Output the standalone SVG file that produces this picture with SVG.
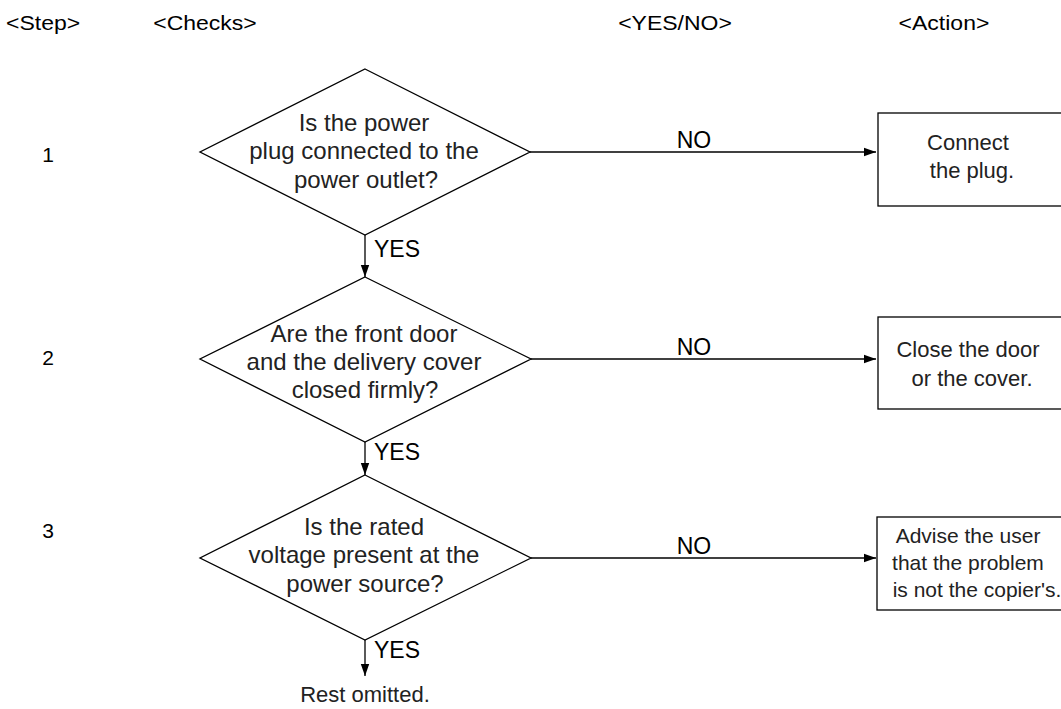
<svg xmlns="http://www.w3.org/2000/svg" width="1061" height="709" viewBox="0 0 1061 709">
<style>
text{font-family:"Liberation Sans",Arial,sans-serif;fill:#222}
.h{font-size:23px;fill:#000}
.s{font-size:21px;fill:#000}
.d{font-size:24px;text-anchor:middle}
.b{font-size:22px;text-anchor:middle}
.b3{font-size:21px;text-anchor:middle}
.l{font-size:23px;fill:#000}
.shape{fill:#fff;stroke:#000;stroke-width:1.3}
.c{stroke:#000;stroke-width:1.3;fill:none}
</style>
<defs>
<marker id="ah" viewBox="0 0 10 10" refX="10" refY="5" markerWidth="12" markerHeight="12" markerUnits="userSpaceOnUse" orient="auto">
<path d="M0,1.5 L10,5 L0,8.5 Z" fill="#000"/>
</marker>
</defs>
<g id="headers" transform="translate(0,4.5) scale(1,0.85)">
<text class="h" x="6" y="30">&lt;Step&gt;</text>
<text class="h" x="205" y="30" text-anchor="middle">&lt;Checks&gt;</text>
<text class="h" x="675" y="30" text-anchor="middle">&lt;YES/NO&gt;</text>
<text class="h" x="944" y="30" text-anchor="middle">&lt;Action&gt;</text>
</g>
<g id="steps">
<text class="s" x="48" y="162" text-anchor="middle">1</text>
<text class="s" x="48" y="365" text-anchor="middle">2</text>
<text class="s" x="48" y="538" text-anchor="middle">3</text>
</g>
<g id="connectors">
<line class="c" x1="530" y1="152" x2="876" y2="152" marker-end="url(#ah)"/>
<line class="c" x1="531" y1="359" x2="876" y2="359" marker-end="url(#ah)"/>
<line class="c" x1="531" y1="558" x2="876" y2="558" marker-end="url(#ah)"/>
<line class="c" x1="365" y1="235" x2="365" y2="277" marker-end="url(#ah)"/>
<line class="c" x1="365" y1="442" x2="365" y2="475" marker-end="url(#ah)"/>
<line class="c" x1="365" y1="640" x2="365" y2="676" marker-end="url(#ah)"/>
<text class="l" x="694" y="148" text-anchor="middle">NO</text>
<text class="l" x="694" y="355" text-anchor="middle">NO</text>
<text class="l" x="694" y="554" text-anchor="middle">NO</text>
<text class="l" x="374" y="257">YES</text>
<text class="l" x="374" y="460">YES</text>
<text class="l" x="374" y="658">YES</text>
</g>
<g id="q1">
<polygon class="shape" points="365,69 530,152 365,235 200,152"/>
<text class="d" x="364" y="131">Is the power</text>
<text class="d" x="364" y="159">plug connected to the</text>
<text class="d" x="366" y="188">power outlet?</text>
</g>
<g id="q2">
<polygon class="shape" points="365,277 531,359 365,442 200,359"/>
<text class="d" x="364" y="342">Are the front door</text>
<text class="d" x="364" y="370">and the delivery cover</text>
<text class="d" x="365" y="398">closed firmly?</text>
</g>
<g id="q3">
<polygon class="shape" points="365,475 531,558 365,640 200,558"/>
<text class="d" x="364" y="535">Is the rated</text>
<text class="d" x="364" y="563">voltage present at the</text>
<text class="d" x="365" y="592">power source?</text>
</g>
<g id="a1">
<rect class="shape" x="878" y="113" width="190" height="93"/>
<text class="b" x="968" y="150">Connect</text>
<text class="b" x="972" y="178">the plug.</text>
</g>
<g id="a2">
<rect class="shape" x="878" y="317" width="190" height="92"/>
<text class="b" x="968" y="357">Close the door</text>
<text class="b" x="972" y="386">or the cover.</text>
</g>
<g id="a3">
<rect class="shape" x="877" y="517" width="190" height="93"/>
<text class="b3" x="968" y="543">Advise the user</text>
<text class="b3" x="968" y="570">that the problem</text>
<text class="b3" x="977" y="597">is not the copier's.</text>
</g>
<g id="end">
<text class="h" x="365" y="702" text-anchor="middle" style="fill:#222;font-size:22px">Rest omitted.</text>
</g>
</svg>
